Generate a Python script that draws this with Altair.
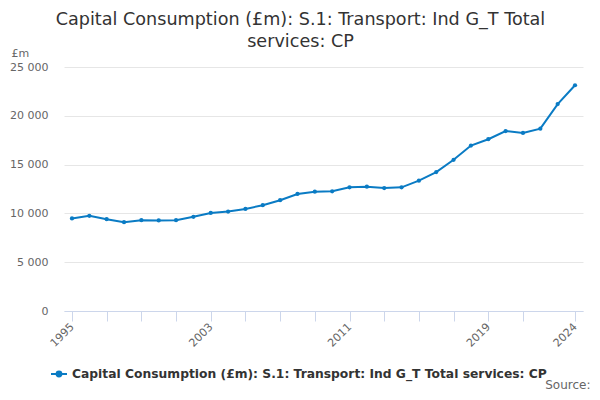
import altair as alt
import pandas as pd

years = list(range(1995, 2025))
values = [9480, 9750, 9410, 9100, 9310, 9280, 9310, 9650, 10050, 10190,
          10460, 10840, 11350, 11990, 12230, 12260, 12670, 12740, 12600, 12670,
          13350, 14230, 15490, 16950, 17600, 18440, 18240, 18680, 21200, 23130]
series_name = "Capital Consumption (£m): S.1: Transport: Ind G_T Total services: CP"
title_lines = ["Capital Consumption (£m): S.1: Transport: Ind G_T Total", "services: CP"]
tick_years = list(range(1995, 2022, 2)) + [2024]
label_years = [1995, 2003, 2011, 2019, 2024]
y_ticks = [0, 5000, 10000, 15000, 20000, 25000]

df = pd.DataFrame({"year": years, "value": values, "series": [series_name] * len(years)})

COLOR = "#0a7bc4"
FONT = "DejaVu Sans"

label_test = " || ".join(f"datum.value == {y}" for y in label_years)

chart = alt.Chart(df).mark_line(
    strokeWidth=2,
    point=alt.OverlayMarkDef(filled=True, size=18, color=COLOR),
).encode(
    x=alt.X(
        "year:Q",
        scale=alt.Scale(domain=[1994.54, 2024.46], nice=False, zero=False),
        axis=alt.Axis(
            values=tick_years,
            labelExpr=f"({label_test}) ? datum.value : ''",
            labelAngle=-45,
            labelAlign="right",
            labelBaseline="middle",
            labelFont=FONT,
            labelFontSize=11,
            labelColor="#666666",
            labelPadding=4,
            tickColor="#ccd6eb",
            tickSize=10,
            domainColor="#ccd6eb",
            grid=False,
            title="Source:",
            titleFont=FONT,
            titleFontSize=12,
            titleFontWeight="normal",
            titleColor="#666666",
            titleAlign="right",
            titleAnchor="end",
            titleBaseline="alphabetic",
            titleX=526,
            titleY=77,
        ),
    ),
    y=alt.Y(
        "value:Q",
        scale=alt.Scale(domain=[0, 25000], nice=False),
        axis=alt.Axis(
            values=y_ticks,
            labelExpr="replace(format(datum.value, ','), ',', ' ')",
            labelFont=FONT,
            labelFontSize=11,
            labelColor="#666666",
            labelPadding=16,
            ticks=False,
            domain=False,
            gridColor="#e6e6e6",
            title="£m",
            titleAngle=0,
            titleAlign="left",
            titleBaseline="alphabetic",
            titleX=-53,
            titleY=-11,
            titleFont=FONT,
            titleFontSize=11,
            titleFontWeight="normal",
            titleColor="#666666",
        ),
    ),
    color=alt.Color(
        "series:N",
        scale=alt.Scale(range=[COLOR]),
        legend=alt.Legend(
            title=None,
            orient="none",
            legendX=-14,
            legendY=298,
            symbolType="M-1,0L1,0M-0.3,0A0.3,0.3,0,1,1,0.3,0A0.3,0.3,0,1,1,-0.3,0",
            symbolSize=256,
            symbolStrokeWidth=2,
            symbolStrokeColor=COLOR,
            symbolFillColor=COLOR,
            labelFont=FONT,
            labelFontSize=12.3,
            labelFontWeight="bold",
            labelColor="#333333",
            labelLimit=700,
            labelOffset=4,
        ),
    ),
).properties(
    width=519,
    height=244,
    autosize=alt.AutoSizeParams(type="none"),
    padding={"left": 56, "top": 59, "right": 9, "bottom": 81},
    title=alt.TitleParams(
        text=title_lines,
        anchor="middle",
        font=FONT,
        fontSize=17.6,
        fontWeight="normal",
        color="#333333",
        dx=-23,
        offset=-4,
        lineHeight=22,
    ),
).configure_view(stroke=None)

chart.save("out.html", embed_options={"renderer": "svg", "actions": False})
